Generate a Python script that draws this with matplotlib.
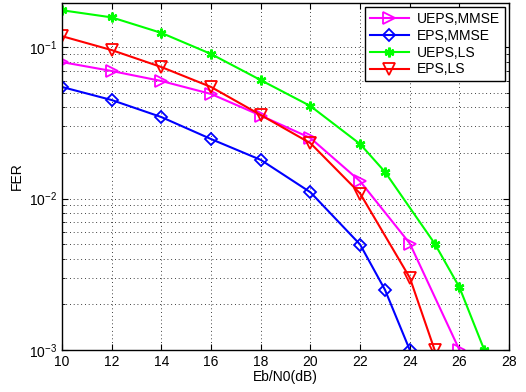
import matplotlib
matplotlib.use("Agg")
import matplotlib.pyplot as plt
from matplotlib.ticker import LogLocator, NullFormatter

plt.rcParams['font.family'] = ['Liberation Sans', 'DejaVu Sans']

x_ueps_mmse = [10, 12, 14, 16, 18, 20, 22, 24, 26]
y_ueps_mmse = [0.0796, 0.0695, 0.0597, 0.049, 0.0353, 0.0251, 0.013, 0.00505, 0.001]
x_eps_mmse = [10, 12, 14, 16, 18, 20, 22, 23, 24]
y_eps_mmse = [0.0545, 0.0447, 0.0345, 0.0247, 0.018, 0.011, 0.00497, 0.0025, 0.001]
x_ueps_ls = [10, 12, 14, 16, 18, 20, 22, 23, 25, 26, 27]
y_ueps_ls = [0.175, 0.157, 0.124, 0.090, 0.0605, 0.0408, 0.0229, 0.015, 0.00505, 0.00259, 0.001]
x_eps_ls = [10, 12, 14, 16, 18, 20, 22, 24, 25]
y_eps_ls = [0.118, 0.0955, 0.0738, 0.0545, 0.0356, 0.0232, 0.0108, 0.0030, 0.001]
labels = ['UEPS,MMSE', 'EPS,MMSE', 'UEPS,LS', 'EPS,LS']
xticks = [10, 12, 14, 16, 18, 20, 22, 24, 26, 28]

fig = plt.figure(figsize=(5.26, 3.92), dpi=100)
ax = fig.add_axes([0.118, 0.107, 0.850, 0.885])

lw = 1.5
ax.semilogy(x_ueps_mmse, y_ueps_mmse, color='#ff00ff', marker='>', mfc='none', ms=8, mew=1.3, lw=lw, label=labels[0])
ax.semilogy(x_eps_mmse, y_eps_mmse, color='#0000ff', marker='D', mfc='none', ms=6, mew=1.3, lw=lw, label=labels[1])
ax.semilogy(x_ueps_ls, y_ueps_ls, color='#00ff00', marker=(6, 2, 0), ms=7, mew=1.8, lw=lw, label=labels[2])
ax.semilogy(x_eps_ls, y_eps_ls, color='#ff0000', marker='v', mfc='none', ms=8, mew=1.3, lw=lw, label=labels[3])

ax.set_xlim(10, 28)
ax.set_ylim(1e-3, 0.195)
ax.set_xticks(xticks)
ax.yaxis.set_major_locator(LogLocator(base=10, numticks=10))
ax.yaxis.set_minor_locator(LogLocator(base=10, subs=range(2, 10), numticks=10))
ax.yaxis.set_minor_formatter(NullFormatter())

gstyle = dict(linestyle=(0, (1, 3.5)), color='black', lw=0.6)
ax.grid(True, which='major', **gstyle)
ax.grid(True, which='minor', axis='y', **gstyle)
ax.set_axisbelow(True)
ax.tick_params(which='both', direction='in', top=True, right=True, labelsize=10)
ax.tick_params(which='major', length=4)
ax.tick_params(which='minor', length=2)
for s in ax.spines.values():
    s.set_linewidth(1.0)

ax.set_xlabel('Eb/N0(dB)', fontsize=10, labelpad=1)
ax.set_ylabel('FER', fontsize=10, labelpad=4)

leg = ax.legend(loc='upper right', fontsize=10, fancybox=False, framealpha=1,
                edgecolor='black', handlelength=2.8, borderaxespad=0.3,
                labelspacing=0.2, borderpad=0.35, handletextpad=0.6)
leg.get_frame().set_linewidth(1.0)

fig.savefig('out.png', dpi=100)
